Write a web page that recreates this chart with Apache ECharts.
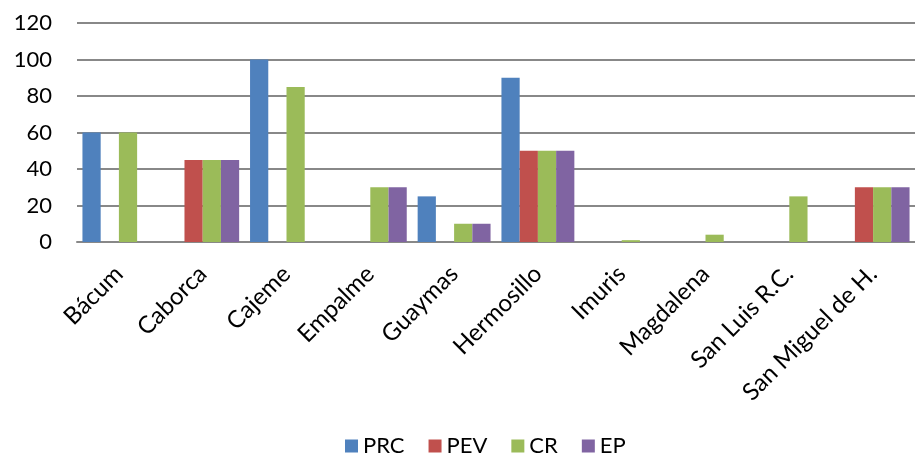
<!DOCTYPE html>
<html>
<head>
<meta charset="utf-8">
<script src="https://cdn.jsdelivr.net/npm/echarts@6/dist/echarts.min.js"></script>
<style>
html, body { margin: 0; padding: 0; background: #fff; }
#chart { width: 915px; height: 464px; }
</style>
</head>
<body>
<div id="chart"></div>
<script>
// datos
var municipios = ['Bácum', 'Caborca', 'Cajeme', 'Empalme', 'Guaymas', 'Hermosillo', 'Imuris', 'Magdalena', 'San Luis R.C.', 'San Miguel de H.'];
var prc = [60, 0, 100, 0, 25, 90, 0, 0, 0, 0];
var pev = [0, 45, 0, 0, 0, 50, 0, 0, 0, 30];
var cr = [60, 45, 85, 30, 10, 50, 1, 4, 25, 30];
var ep = [0, 45, 0, 30, 10, 50, 0, 0, 0, 30];
var yTicks = [0, 20, 40, 60, 80, 100, 120];

var font = 'Lato';
var myChart = echarts.init(document.getElementById('chart'));

function serie(name, data, color) {
    return {
        name: name,
        type: 'bar',
        data: data,
        barGap: '0%',
        barCategoryGap: '13%',
        itemStyle: { color: color }
    };
}

var option = {
    animation: false,
    textStyle: { fontFamily: font },
    grid: { left: 77, right: -7, top: 23, bottom: 222 },
    legend: {
        bottom: 2,
        left: 340,
        itemWidth: 13,
        itemHeight: 13,
        itemGap: 24,
        icon: 'rect',
        textStyle: { fontSize: 22, color: '#000', fontFamily: font },
        data: ['PRC', 'PEV', 'CR', 'EP']
    },
    xAxis: {
        type: 'category',
        data: municipios,
        axisLine: { lineStyle: { color: '#888', width: 2 } },
        axisTick: { show: false },
        axisLabel: { rotate: 45, fontSize: 24, color: '#000', margin: 28, interval: 0 }
    },
    yAxis: {
        type: 'value',
        min: yTicks[0],
        max: yTicks[yTicks.length - 1],
        interval: 20,
        axisLine: { show: false },
        axisTick: { show: false },
        axisLabel: { fontSize: 22, color: '#000', margin: 25 },
        splitLine: { lineStyle: { color: '#888', width: 2 } }
    },
    series: [
        serie('PRC', prc, '#4F81BD'),
        serie('PEV', pev, '#C0504D'),
        serie('CR', cr, '#9BBB59'),
        serie('EP', ep, '#8064A2')
    ]
};
myChart.setOption(option);
</script>
</body>
</html>
